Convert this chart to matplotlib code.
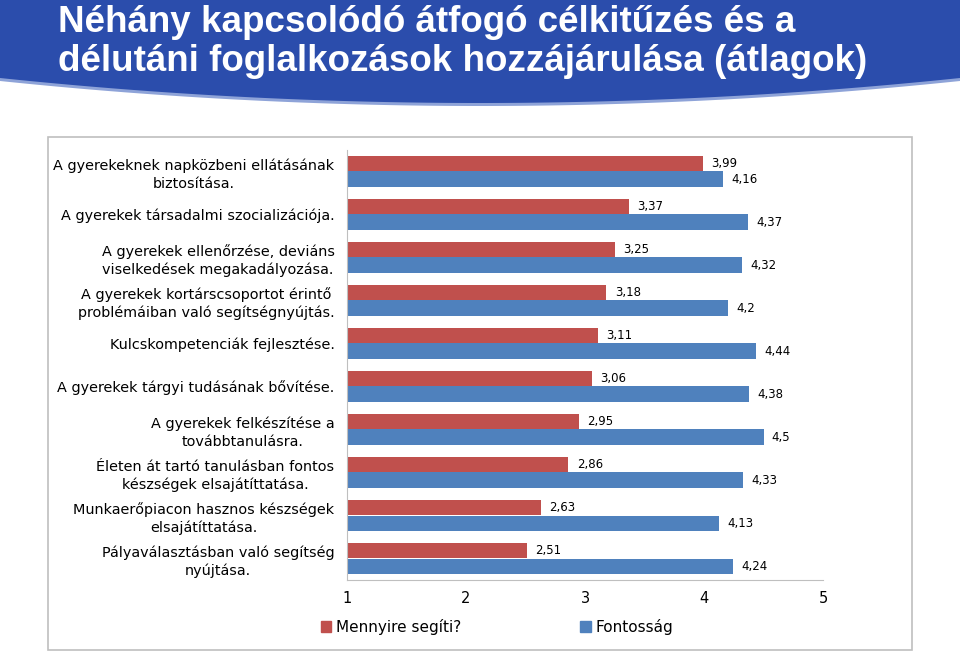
import numpy as np
import matplotlib
matplotlib.use('Agg')
import matplotlib.pyplot as plt
from matplotlib.patches import Polygon, Rectangle, Patch

# adatok
categories = [
    'A gyerekeknek napközbeni ellátásának\nbiztosítása.',
    'A gyerekek társadalmi szocializációja.',
    'A gyerekek ellenőrzése, deviáns\nviselkedések megakadályozása.',
    'A gyerekek kortárscsoportot érintő\nproblémáiban való segítségnyújtás.',
    'Kulcskompetenciák fejlesztése.',
    'A gyerekek tárgyi tudásának bővítése.',
    'A gyerekek felkészítése a\ntovábbtanulásra.',
    'Életen át tartó tanulásban fontos\nkészségek elsajátíttatása.',
    'Munkaerőpiacon hasznos készségek\nelsajátíttatása.',
    'Pályaválasztásban való segítség\nnyújtása.',
]
segiti = [3.99, 3.37, 3.25, 3.18, 3.11, 3.06, 2.95, 2.86, 2.63, 2.51]
fontossag = [4.16, 4.37, 4.32, 4.2, 4.44, 4.38, 4.5, 4.33, 4.13, 4.24]
series_names = ['Mennyire segíti?', 'Fontosság']
xticks = [1, 2, 3, 4, 5]

red = '#C0504D'
blue = '#4F81BD'

W, H = 960, 653
fig = plt.figure(figsize=(W / 100, H / 100), dpi=100)

def fx(px):
    return px / W

def fy(py):
    return 1 - py / H

# kék fejléc ívelt aljjal
xs = np.linspace(0, W, 200)
ys = 103 - 25 * ((xs - 480) / 480) ** 2
shadow = [(fx(0), fy(0))] + [(fx(x), fy(y + 3)) for x, y in zip(xs, ys)] + [(fx(W), fy(0))]
fig.patches.append(Polygon(shadow, closed=True, transform=fig.transFigure,
                           facecolor='#8EA3D8', edgecolor='none', zorder=0))
banner = [(fx(0), fy(0))] + [(fx(x), fy(y)) for x, y in zip(xs, ys)] + [(fx(W), fy(0))]
fig.patches.append(Polygon(banner, closed=True, transform=fig.transFigure,
                           facecolor='#2B4DAC', edgecolor='none', zorder=1))

fig.text(fx(58), fy(42),
         'Néhány kapcsolódó átfogó célkitűzés és a\ndélutáni foglalkozások hozzájárulása (átlagok)',
         color='white', fontsize=26.5, fontweight='bold', ha='left', va='center',
         family='Liberation Sans', linespacing=1.12)

# diagram kerete
fig.patches.append(Rectangle((fx(48), fy(650)), fx(912) - fx(48), fy(137) - fy(650),
                             transform=fig.transFigure, facecolor='none',
                             edgecolor='#BFBFBF', lw=1.2))

ax = fig.add_axes([fx(347), fy(580), fx(823) - fx(347), fy(150) - fy(580)])
y = np.arange(len(categories))
h = 0.35
b1 = ax.barh(y - h / 2, [v - 1 for v in segiti], left=1, height=h, color=red)
b2 = ax.barh(y + h / 2, [v - 1 for v in fontossag], left=1, height=h, color=blue)

ax.bar_label(b1, labels=[f'{v:g}'.replace('.', ',') for v in segiti], padding=6, fontsize=8.5)
ax.bar_label(b2, labels=[f'{v:g}'.replace('.', ',') for v in fontossag], padding=6, fontsize=8.5)

ax.set_xlim(1, 5)
ax.set_ylim(len(categories) - 0.5, -0.5)
ax.set_xticks(xticks)
ax.set_xticklabels([str(t) for t in xticks], fontsize=10.5)
ax.set_yticks(y)
ax.set_yticklabels(categories, fontsize=10.4, ha='right', multialignment='center',
                   linespacing=1.3)
ax.tick_params(axis='both', length=0)
ax.tick_params(axis='x', pad=8)
ax.tick_params(axis='y', pad=9)
for s in ['top', 'right']:
    ax.spines[s].set_visible(False)
for s in ['left', 'bottom']:
    ax.spines[s].set_color('#BFBFBF')

handles = [Patch(color=red), Patch(color=blue)]
fig.legend(handles, series_names, loc='center', bbox_to_anchor=(fx(497), fy(627)),
           ncol=2, frameon=False, fontsize=11, handlelength=0.7, handleheight=0.7,
           handletextpad=0.3, columnspacing=7.8)

fig.savefig('out.png', dpi=100)
